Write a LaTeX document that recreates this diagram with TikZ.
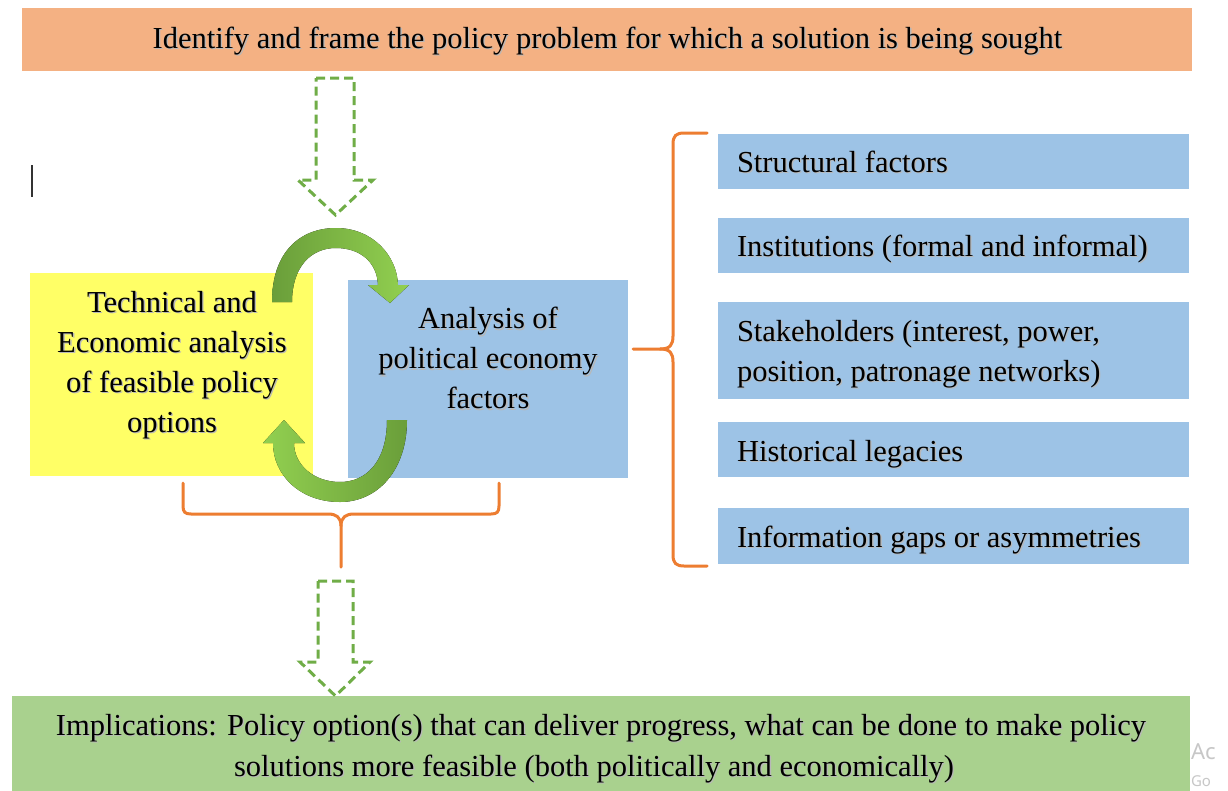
\documentclass[tikz,border=0pt]{standalone}
\usepackage{fontspec}
\setmainfont{Liberation Serif}
\newfontfamily\wmfont{Noto Sans}
\usetikzlibrary{calc}

\definecolor{topor}{HTML}{F4B183}
\definecolor{ylw}{HTML}{FFFF66}
\definecolor{blu}{HTML}{9DC3E6}
\definecolor{grn}{HTML}{A9D18E}
\definecolor{brc}{HTML}{ED7D31}
\definecolor{dgrn}{HTML}{70AD47}
\definecolor{arrdark}{HTML}{6A9E3A}
\definecolor{arrlight}{HTML}{92D050}

% soft drop shadow behind a line of text
\newcommand{\shd}[1]{\leavevmode\rlap{\kern1.3pt\raisebox{-1.3pt}{\textcolor{black!28}{#1}}}#1}

\begin{document}
\begin{tikzpicture}[x=1pt,y=-1pt,
  every node/.style={inner sep=0pt, outer sep=0pt},
  panel/.style={draw=none, rectangle},
  txt/.style={font=\fontsize{30.5}{40}\selectfont, align=center},
  ltxt/.style={font=\fontsize{30.5}{40}\selectfont, align=left},
  flowarrow/.style={draw=dgrn, line width=3pt, dash pattern=on 9pt off 5pt, line join=miter},
  bracestyle/.style={draw=brc, line width=3pt, line cap=round, line join=round},
  wmark/.style={text=black!22, anchor=base west},
]
\useasboundingbox (0,0) rectangle (1228,790);
\fill[white] (0,0) rectangle (1228,790);

% ---- panels ----
\node[panel, fill=topor, minimum width=1170pt, minimum height=63pt] (problem) at (607,39.5) {};
\node[txt, anchor=base] (problemtxt) at (607.5,48)
  {\shd{Identify and frame the policy problem for which a solution is being sought}};

\node[panel, fill=ylw, minimum width=283pt, minimum height=203pt] (tech) at (171.5,374.5) {};
\node[txt] (techtxt) at (172,366)
  {\shd{Technical and}\\\shd{Economic analysis}\\\shd{of feasible policy}\\\shd{options}};

\node[panel, fill=blu, minimum width=280pt, minimum height=198pt] (polec) at (488,379) {};
\node[txt] (polectxt) at (488,359)
  {\shd{Analysis of}\\\shd{political economy}\\\shd{factors}};

% factor list
\node[panel, fill=blu, minimum width=471pt, minimum height=55pt] (f1) at (953.5,161.5) {};
\node[panel, fill=blu, minimum width=471pt, minimum height=55pt] (f2) at (953.5,245.5) {};
\node[panel, fill=blu, minimum width=471pt, minimum height=97pt] (f3) at (953.5,350.5) {};
\node[panel, fill=blu, minimum width=471pt, minimum height=55pt] (f4) at (953.5,449.5) {};
\node[panel, fill=blu, minimum width=471pt, minimum height=56pt] (f5) at (953.5,536) {};

\node[txt, anchor=base west] (f1txt) at (737,172.5) {\shd{Structural factors}};
\node[txt, anchor=base west] (f2txt) at (737,256.5) {\shd{Institutions (formal and informal)}};
\node[ltxt, anchor=west] (f3txt) at (737,354.5)
  {\shd{Stakeholders (interest, power,}\\\shd{position, patronage networks)}};
\node[txt, anchor=base west] (f4txt) at (737,461) {\shd{Historical legacies}};
\node[txt, anchor=base west] (f5txt) at (737,547.5) {\shd{Information gaps or asymmetries}};

\node[panel, fill=grn, minimum width=1178pt, minimum height=104pt] (impl) at (601,748) {};
\node[txt, anchor=base] (impltxta) at (601,735)
  {\shd{Implications: Policy option(s) that can deliver progress, what can be done to make policy}};
\node[txt, anchor=base] (impltxtb) at (594,776)
  {\shd{solutions more feasible (both politically and economically)}};

% ---- dashed block arrows ----
\draw[flowarrow] (316,78) -- (354,78) -- (354,180) -- (373,180) -- (335.5,215)
  -- (298,180) -- (316,180) -- cycle;
\draw[flowarrow] (318,581) -- (353,581) -- (353,662) -- (370,662) -- (335.5,696)
  -- (300,662) -- (318,662) -- cycle;

% ---- circular exchange arrows ----
\fill[left color=arrdark, right color=arrlight]
  (272,302) .. controls (272,252) and (300,228) .. (336,228)
  .. controls (372,228) and (397,255) .. (398,285)
  -- (409,285) -- (390,303) -- (368,285) -- (378,285)
  .. controls (377,262) and (360,248) .. (336,248)
  .. controls (310,248) and (292,268) .. (292,302) -- cycle;
\fill[left color=arrlight, right color=arrdark]
  (407,420) .. controls (407,470) and (378,502) .. (340,502)
  .. controls (300,502) and (273,475) .. (273,443)
  -- (263,443) -- (284,420) -- (305,443) -- (294,443)
  .. controls (294,465) and (314,482) .. (340,482)
  .. controls (366,482) and (387,462) .. (387,420) -- cycle;

% ---- braces ----
\coordinate (bbl) at (183,483);
\coordinate (bbr) at (499,483);
\coordinate (bbm) at (341,567);
\draw[bracestyle] (bbl) -- (183,506) .. controls (183,512) and (185,514) .. (191,514)
  -- (328,514) .. controls (336,514) and (341,517) .. (341,526) -- (bbm);
\draw[bracestyle] (bbr) -- (499,506) .. controls (499,512) and (497,514) .. (491,514)
  -- (354,514) .. controls (346,514) and (341,517) .. (341,526);

\coordinate (rbt) at (707,133);
\coordinate (rbb) at (707,566);
\coordinate (rbm) at (633,349);
\draw[bracestyle] (rbt) -- (684,133) .. controls (676,133) and (673,136) .. (673,144)
  -- (673,336) .. controls (673,345) and (670,349) .. (660,349) -- (rbm);
\draw[bracestyle] (660,349) .. controls (670,349) and (673,353) .. (673,362)
  -- (673,555) .. controls (673,563) and (676,566) .. (684,566) -- (rbb);

% text cursor
\draw[line width=1.5pt, black!80] (32,165) -- (32,197);

% system watermark at the lower right edge
\node[wmark, font=\wmfont\fontsize{22}{22}\selectfont] (wm1) at (1191,759) {Ac};
\node[wmark, font=\wmfont\fontsize{15}{15}\selectfont] (wm2) at (1191,786) {Go};
\end{tikzpicture}
\end{document}
